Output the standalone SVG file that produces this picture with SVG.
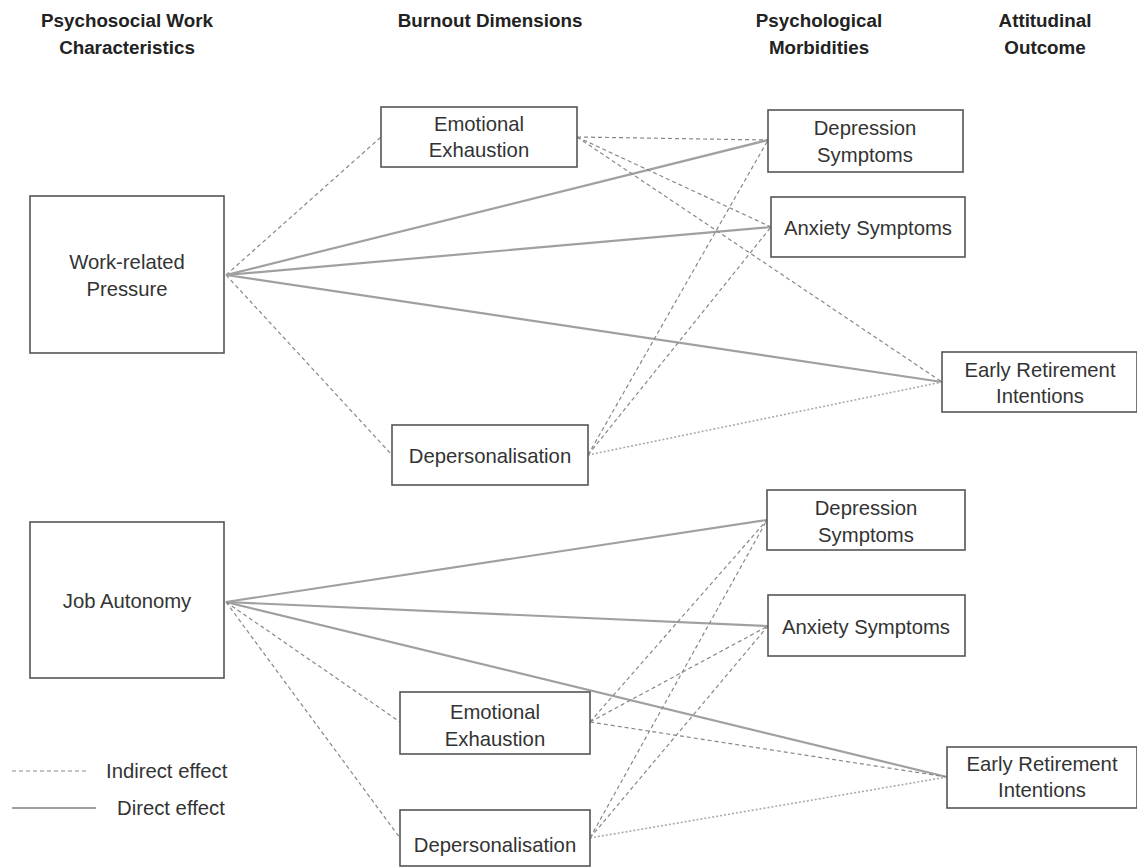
<svg xmlns="http://www.w3.org/2000/svg" width="1137" height="868" viewBox="0 0 1137 868">
<style>
.hd{font-family:"Liberation Sans",Arial,sans-serif;font-weight:bold;font-size:18.8px;fill:#222;text-anchor:middle}
.t{font-family:"Liberation Sans",Arial,sans-serif;font-size:20.3px;fill:#333;text-anchor:middle}
.box{fill:#fff;stroke:#555;stroke-width:1.6}
.d{stroke:#a0a0a0;stroke-width:2.2;fill:none}
.i{stroke:#888;stroke-width:1.2;stroke-dasharray:4 3;fill:none}
.o{stroke:#aaa;stroke-width:1.6;stroke-dasharray:2 2;fill:none}
</style>
<rect width="1137" height="868" fill="#fff"/>
<g id="headers">
<text class="hd" x="127" y="27">Psychosocial Work</text>
<text class="hd" x="127" y="54">Characteristics</text>
<text class="hd" x="490" y="27">Burnout Dimensions</text>
<text class="hd" x="819" y="27">Psychological</text>
<text class="hd" x="819" y="54">Morbidities</text>
<text class="hd" x="1045" y="27">Attitudinal</text>
<text class="hd" x="1045" y="54">Outcome</text>
</g>
<g id="connectors">
<line class="i" x1="226" y1="275" x2="381" y2="137"/>
<line class="i" x1="226" y1="275" x2="392" y2="455"/>
<line class="d" x1="226" y1="275" x2="768" y2="140"/>
<line class="d" x1="226" y1="275" x2="771" y2="227"/>
<line class="d" x1="226" y1="275" x2="942" y2="382"/>
<line class="i" x1="577" y1="137" x2="768" y2="140"/>
<line class="i" x1="577" y1="137" x2="771" y2="227"/>
<line class="i" x1="577" y1="137" x2="942" y2="382"/>
<line class="i" x1="588" y1="455" x2="768" y2="140"/>
<line class="i" x1="588" y1="455" x2="771" y2="227"/>
<line class="o" x1="588" y1="455" x2="942" y2="382"/>
<line class="d" x1="226" y1="602" x2="767" y2="520"/>
<line class="d" x1="226" y1="602" x2="768" y2="626"/>
<line class="d" x1="226" y1="602" x2="947" y2="777"/>
<line class="i" x1="226" y1="602" x2="400" y2="722"/>
<line class="i" x1="226" y1="602" x2="400" y2="838"/>
<line class="i" x1="590" y1="722" x2="767" y2="520"/>
<line class="i" x1="590" y1="722" x2="768" y2="626"/>
<line class="i" x1="590" y1="722" x2="947" y2="777"/>
<line class="i" x1="590" y1="838" x2="767" y2="520"/>
<line class="i" x1="590" y1="838" x2="768" y2="626"/>
<line class="o" x1="590" y1="838" x2="947" y2="777"/>
</g>
<g id="wrp"><rect class="box" x="30" y="196" width="194" height="157"/><text class="t" x="127" y="269">Work-related</text><text class="t" x="127" y="296">Pressure</text></g>
<g id="ee1"><rect class="box" x="381" y="107" width="196" height="60"/><text class="t" x="479" y="131">Emotional</text><text class="t" x="479" y="157">Exhaustion</text></g>
<g id="dep1"><rect class="box" x="768" y="110" width="195" height="62"/><text class="t" x="865" y="135">Depression</text><text class="t" x="865" y="162">Symptoms</text></g>
<g id="anx1"><rect class="box" x="771" y="197" width="194" height="60"/><text class="t" x="868" y="235">Anxiety Symptoms</text></g>
<g id="eri1"><rect class="box" x="942" y="352" width="195" height="60"/><text class="t" x="1040" y="377">Early Retirement</text><text class="t" x="1040" y="403">Intentions</text></g>
<g id="dp1"><rect class="box" x="392" y="425" width="196" height="60"/><text class="t" x="490" y="463">Depersonalisation</text></g>
<g id="ja"><rect class="box" x="30" y="522" width="194" height="156"/><text class="t" x="127" y="608">Job Autonomy</text></g>
<g id="dep2"><rect class="box" x="767" y="490" width="198" height="60"/><text class="t" x="866" y="515">Depression</text><text class="t" x="866" y="542">Symptoms</text></g>
<g id="anx2"><rect class="box" x="768" y="595" width="197" height="61"/><text class="t" x="866" y="634">Anxiety Symptoms</text></g>
<g id="ee2"><rect class="box" x="400" y="692" width="190" height="62"/><text class="t" x="495" y="719">Emotional</text><text class="t" x="495" y="746">Exhaustion</text></g>
<g id="eri2"><rect class="box" x="947" y="747" width="190" height="61"/><text class="t" x="1042" y="771">Early Retirement</text><text class="t" x="1042" y="797">Intentions</text></g>
<g id="dp2"><rect class="box" x="400" y="810" width="190" height="56"/><text class="t" x="495" y="852">Depersonalisation</text></g>
<g id="legend">
<line class="i" x1="12" y1="771" x2="86" y2="771" stroke-dasharray="2 2"/>
<text class="t" x="106" y="778" style="text-anchor:start">Indirect effect</text>
<line class="d" x1="12" y1="808" x2="96" y2="808"/>
<text class="t" x="117" y="815" style="text-anchor:start">Direct effect</text>
</g>
</svg>
